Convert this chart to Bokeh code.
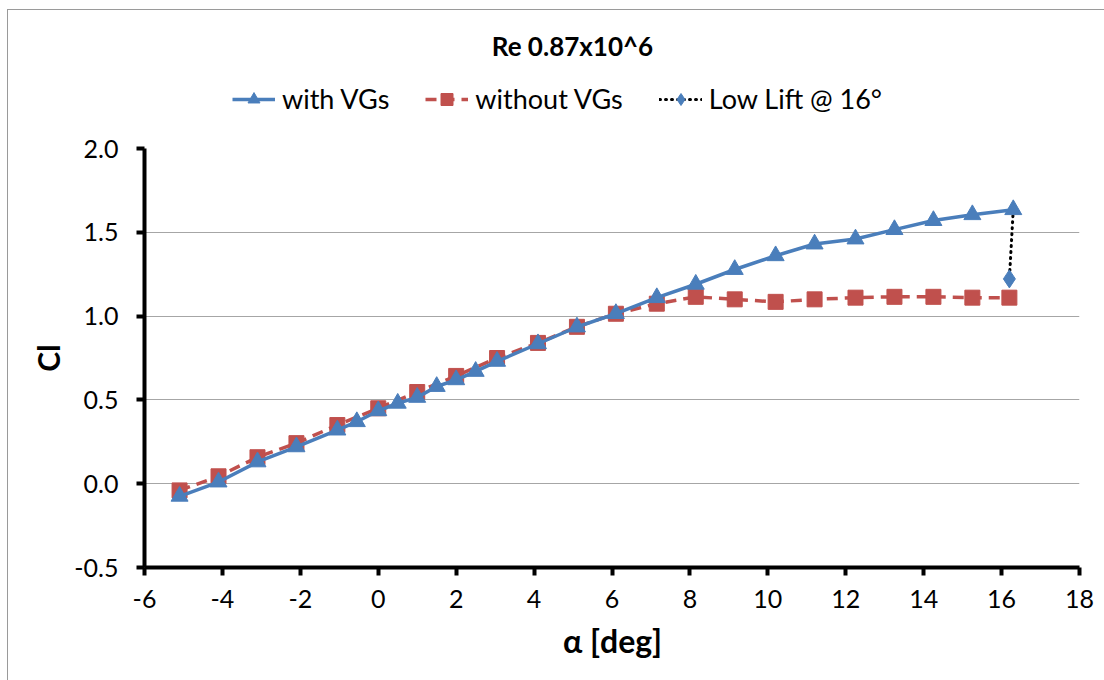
from bokeh.plotting import figure
from bokeh.models import Legend, LegendItem, FixedTicker, PrintfTickFormatter, Range1d, Label
from bokeh.layouts import column
from bokeh.embed import file_html
from bokeh.resources import INLINE

# ---- data ----
alpha_vg = [-5.1, -4.1, -3.1, -2.1, -1.05, -0.55, 0.0, 0.5, 1.0, 1.5, 2.0, 2.5, 3.05,
            4.1, 5.1, 6.1, 7.15, 8.15, 9.15, 10.2, 11.2, 12.25, 13.25, 14.25, 15.25, 16.3]
cl_vg = [-0.075, 0.01, 0.13, 0.22, 0.32, 0.37, 0.435, 0.48, 0.515, 0.58, 0.62, 0.67, 0.73,
         0.835, 0.935, 1.015, 1.11, 1.19, 1.278, 1.36, 1.43, 1.46, 1.516, 1.57, 1.605, 1.635]

alpha_novg = [-5.1, -4.1, -3.1, -2.1, -1.05, 0.0, 1.0, 2.0, 3.05, 4.1, 5.1, 6.1, 7.15,
              8.15, 9.15, 10.2, 11.2, 12.25, 13.25, 14.25, 15.25, 16.2]
cl_novg = [-0.04, 0.044, 0.158, 0.242, 0.35, 0.45, 0.547, 0.643, 0.75, 0.84, 0.936, 1.014,
           1.074, 1.115, 1.10, 1.085, 1.10, 1.11, 1.115, 1.115, 1.11, 1.11]

alpha_low = [16.3, 16.2]
cl_low = [1.635, 1.222]

x_ticks = [-6, -4, -2, 0, 2, 4, 6, 8, 10, 12, 14, 16, 18]
y_ticks = [-0.5, 0.0, 0.5, 1.0, 1.5, 2.0]

title_text = "Re 0.87x10^6"
x_label = "α [deg]"
y_label = "Cl"
series_names = ["with VGs", "without VGs", "Low Lift @ 16°"]

BLUE = "#4A7EBB"
RED = "#C0504D"
FONT = "Lato"

VG_LINE = dict(line_color=BLUE, line_width=3.5)
VG_MARK = dict(marker="triangle", size=17, fill_color=BLUE, line_color=BLUE)
NV_LINE = dict(line_color=RED, line_width=3.5, line_dash="11 7")
NV_MARK = dict(marker="square", size=15, fill_color=RED, line_color=RED)
LO_LINE = dict(line_color="black", line_width=3, line_dash="1 5", line_cap="round")
LO_MARK = dict(marker="diamond", size=18, fill_color=BLUE, line_color=BLUE)

HEADER_H = 126
W = 1104
FRAME_LEFT = 144

# ---------------- header: title + legend ----------------
# (ranges are chosen so the series themselves fall outside this strip; only the
#  legend and the title are visible here)
head = figure(width=W, height=HEADER_H, output_backend="svg", toolbar_location=None,
              x_range=Range1d(100, 101), y_range=Range1d(100, 101),
              x_axis_location=None, y_axis_location=None,
              min_border_left=FRAME_LEFT, min_border_right=25, min_border_top=0,
              min_border_bottom=0)
head.outline_line_color = None
head.xgrid.grid_line_color = None
head.ygrid.grid_line_color = None
head.border_fill_color = None
head.background_fill_color = None

head.add_layout(Label(x=572 - FRAME_LEFT, y=HEADER_H - 45, x_units="screen", y_units="screen",
                      text=title_text, text_align="center", text_baseline="middle",
                      text_font=FONT, text_font_size="26px", text_font_style="bold",
                      text_color="black"))

h_vg_line = head.line(alpha_vg, cl_vg, **VG_LINE)
h_vg_pts = head.scatter(alpha_vg, cl_vg, **VG_MARK)
h_nv_line = head.line(alpha_novg, cl_novg, **NV_LINE)
h_nv_pts = head.scatter(alpha_novg, cl_novg, **NV_MARK)
h_lo_line = head.line(alpha_low, cl_low, **LO_LINE)
h_lo_pts = head.scatter(alpha_low[1:], cl_low[1:], **LO_MARK)

legend = Legend(items=[
    LegendItem(label=series_names[0], renderers=[h_vg_line, h_vg_pts]),
    LegendItem(label=series_names[1], renderers=[h_nv_line, h_nv_pts]),
    LegendItem(label=series_names[2], renderers=[h_lo_line, h_lo_pts]),
], orientation="horizontal", location=(232 - FRAME_LEFT, HEADER_H - 100 - 15))
legend.label_text_font = FONT
legend.label_text_font_size = "27px"
legend.label_text_color = "black"
legend.label_height = 30
legend.border_line_color = None
legend.background_fill_alpha = 0
legend.glyph_width = 43
legend.glyph_height = 30
legend.spacing = 36
legend.label_standoff = 7
legend.margin = 0
legend.padding = 0
head.add_layout(legend, "center")

# ---------------- main chart ----------------
p = figure(width=W, height=680 - HEADER_H, output_backend="svg", toolbar_location=None,
           x_range=Range1d(-6, 18), y_range=Range1d(-0.5, 2.0),
           min_border_left=FRAME_LEFT, min_border_right=25, min_border_top=148 - HEADER_H,
           min_border_bottom=113)
p.outline_line_color = None
p.background_fill_color = None
p.border_fill_color = None

p.xgrid.grid_line_color = None
p.ygrid.grid_line_color = "#A6A6A6"
p.ygrid.grid_line_width = 1
p.ygrid.ticker = FixedTicker(ticks=y_ticks)

for ax in (p.xaxis[0], p.yaxis[0]):
    ax.axis_line_color = "black"
    ax.axis_line_width = 4
    ax.major_tick_line_color = "black"
    ax.major_tick_line_width = 4
    ax.major_tick_out = 8
    ax.major_tick_in = 0
    ax.minor_tick_line_color = None
    ax.major_label_text_font = FONT
    ax.major_label_text_font_size = "25px"
    ax.major_label_text_color = "black"
    ax.axis_label_text_font = FONT
    ax.axis_label_text_font_style = "bold"
    ax.axis_label_text_color = "black"

p.xaxis[0].ticker = FixedTicker(ticks=x_ticks)
p.yaxis[0].ticker = FixedTicker(ticks=y_ticks)
p.xaxis[0].formatter = PrintfTickFormatter(format="%d")
p.yaxis[0].formatter = PrintfTickFormatter(format="%.1f")
p.xaxis[0].axis_label = x_label
p.yaxis[0].axis_label = y_label
p.xaxis[0].axis_label_text_font_size = "32px"
p.yaxis[0].axis_label_text_font_size = "30px"
p.xaxis[0].major_label_standoff = 14
p.yaxis[0].major_label_standoff = 18
p.xaxis[0].axis_label_standoff = 10
p.yaxis[0].axis_label_standoff = 5

p.line(alpha_low, cl_low, **LO_LINE)
p.scatter(alpha_low[1:], cl_low[1:], **LO_MARK)
p.line(alpha_novg, cl_novg, **NV_LINE)
p.scatter(alpha_novg, cl_novg, **NV_MARK)
p.line(alpha_vg, cl_vg, **VG_LINE)
p.scatter(alpha_vg, cl_vg, **VG_MARK)

# chart-area frame (thin grey line along the top and left, as in the reference)
frame_css = ("linear-gradient(#9a9a9a, #9a9a9a) 7px 9px / 1px 100% no-repeat, "
             "linear-gradient(#9a9a9a, #9a9a9a) 7px 9px / 100% 1px no-repeat, white")
layout = column(head, p, spacing=0, styles={"background": frame_css})
open("out.html", "w").write(file_html(layout, INLINE))
